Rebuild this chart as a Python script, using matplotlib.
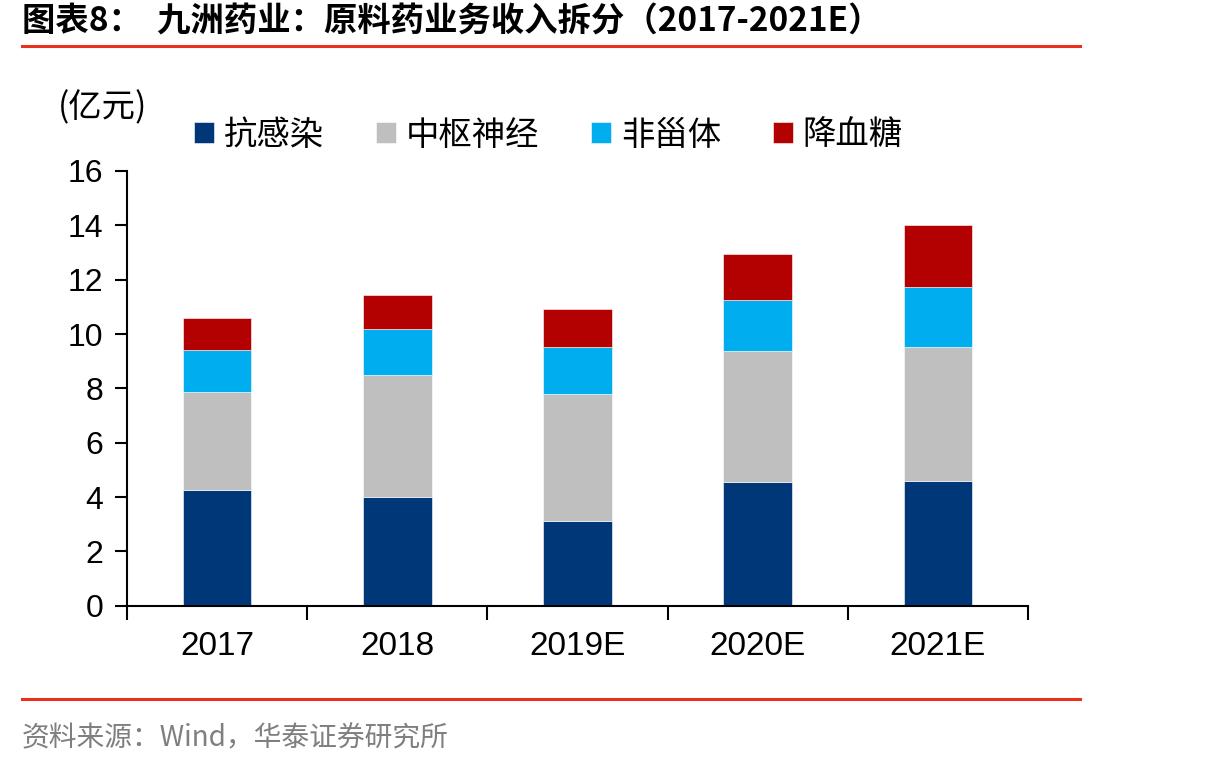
import matplotlib
matplotlib.use('Agg')
import matplotlib.pyplot as plt
import numpy as np

plt.rcParams['font.family'] = ['Noto Sans CJK SC', 'DejaVu Sans']

# data (亿元)
years = ['2017', '2018', '2019E', '2020E', '2021E']
series_names = ['抗感染', '中枢神经', '非甾体', '降血糖']
anti_infect = [4.25, 4.01, 3.13, 4.56, 4.58]
cns = [3.61, 4.47, 4.67, 4.83, 4.96]
nsaid = [1.54, 1.69, 1.74, 1.85, 2.20]
diabetes = [1.20, 1.28, 1.37, 1.69, 2.29]
colors = ['#003778', '#bfbfbf', '#00aeef', '#b30000']

W, H = 1210, 767
fig = plt.figure(figsize=(W / 100, H / 100), dpi=100)
ax = fig.add_axes([127 / W, 1 - 605.7 / H, (1028 - 127) / W, (605.7 - 171) / H])

x = np.arange(len(years))
bottom = np.zeros(len(years))
handles = []
for name, vals, c in zip(series_names, [anti_infect, cns, nsaid, diabetes], colors):
    b = ax.bar(x, vals, width=0.38, bottom=bottom, color=c, label=name,
               edgecolor='white', linewidth=0.4)
    handles.append(b)
    bottom += np.array(vals)

num_font = ['Liberation Sans', 'DejaVu Sans']
ax.set_xlim(-0.5, len(years) - 0.5)
ax.set_ylim(0, 16)
ax.set_yticks(range(0, 17, 2))
ax.tick_params(axis='y', labelsize=23, length=9, width=1.5, direction='out', pad=8)
ax.set_xticks(x)
ax.set_xticklabels(years, fontsize=24, family=num_font)
for lbl in ax.get_yticklabels():
    lbl.set_family(num_font)
ax.tick_params(axis='x', length=0, pad=18)
ax.set_xticks(np.arange(-0.5, len(years)), minor=True)
ax.tick_params(axis='x', which='minor', length=10, width=1.5, direction='out')
for s in ['top', 'right']:
    ax.spines[s].set_visible(False)
for s in ['left', 'bottom']:
    ax.spines[s].set_linewidth(1.5)

fig.legend(handles=handles, labels=series_names, ncol=4, frameon=False,
           loc='center left', bbox_to_anchor=(194 / W, 1 - 135 / H),
           fontsize=24, handlelength=0.6, handleheight=0.6, handletextpad=0.3,
           columnspacing=1.55, borderaxespad=0, borderpad=0)

fig.text(58 / W, 1 - 108 / H, '(亿元)', fontsize=24, va='center', ha='left')

# title and separator lines
fig.text(22 / W, 1 - 22 / H, '图表8：  九洲药业：原料药业务收入拆分（2017-2021E）',
         fontsize=24, fontweight='bold', va='center', ha='left')
fig.add_artist(plt.Line2D([22 / W, 1080 / W], [1 - 46 / H, 1 - 46 / H], color='#e8321e', lw=2.2))
fig.add_artist(plt.Line2D([22 / W, 1080 / W], [1 - 699 / H, 1 - 699 / H], color='#e8321e', lw=2.2))
fig.text(22 / W, 1 - 738 / H, '资料来源：Wind，华泰证券研究所', fontsize=20,
         color='#7f7f7f', va='center', ha='left')

fig.savefig('out.png', dpi=100)
